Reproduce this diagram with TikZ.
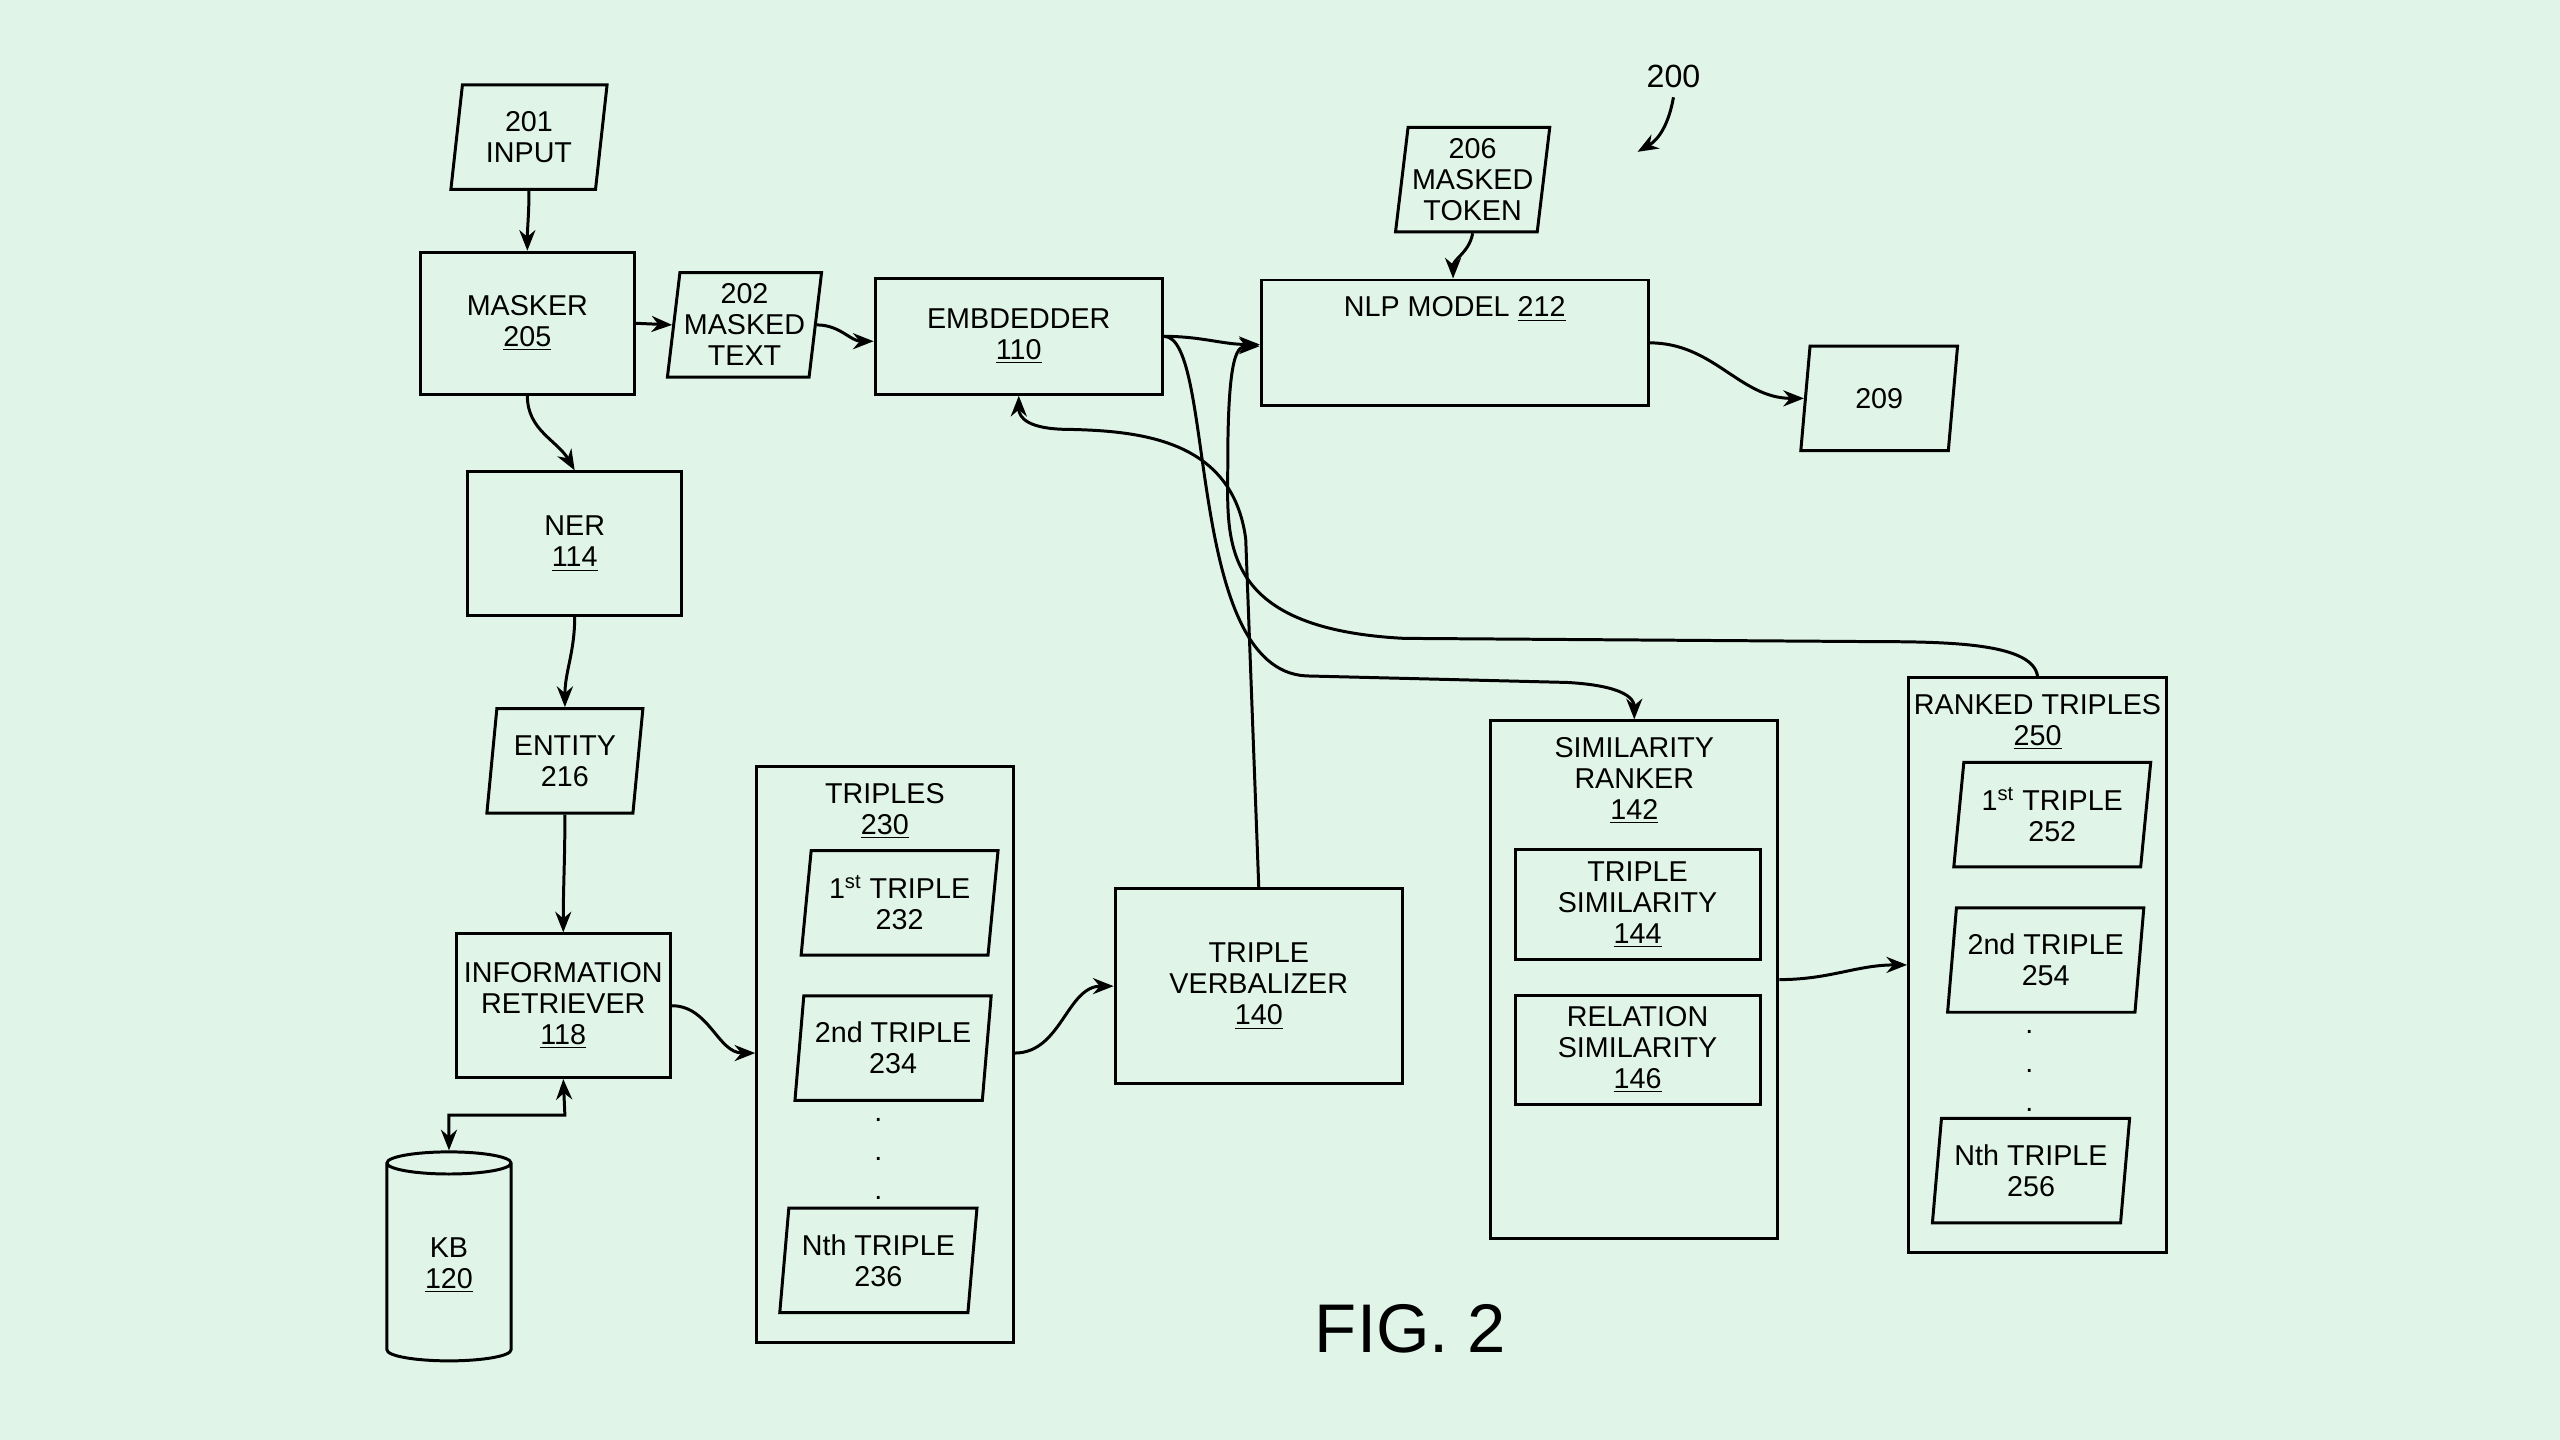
\documentclass[tikz,border=0pt]{standalone}
\usepackage{fontspec}
\setmainfont{Liberation Sans}
\usetikzlibrary{
  shapes,
  shapes.geometric,
  arrows.meta,
  calc,
  positioning,
}
\definecolor{bgG}{HTML}{E0F5E7}
\newcommand{\px}{0.025cm}

\begin{document}
\begin{tikzpicture}[x=0.025cm,y=-0.025cm,line width=1.3pt,
    font=\fontsize{12.5}{13.5}\selectfont,
    box/.style={draw,rectangle,align=center,inner sep=2pt},
    para/.style={draw,trapezium,trapezium left angle=82,trapezium right angle=98,
        trapezium stretches=true,align=center,inner sep=1pt},
    titled/.style={box,label={[anchor=north,align=center,yshift=-4pt]north:#1}},
    arr/.style={-{Stealth[length=9pt,width=7pt]}},
  ]
  \useasboundingbox[fill=bgG] (0,0) rectangle (1568,882);

  % top row
  \node[para,minimum width=96*\px,minimum height=64*\px] (in) at (324,84) {201\\INPUT};
  \node[box,minimum width=131*\px,minimum height=87*\px] (mask) at (323,198) {MASKER\\\underline{205}};
  \node[para,minimum width=95*\px,minimum height=64*\px] (mtext) at (456,199) {202\\MASKED\\TEXT};
  \node[box,minimum width=176*\px,minimum height=71*\px] (emb) at (624,206) {EMBDEDDER\\\underline{110}};
  \node[para,minimum width=95*\px,minimum height=64*\px] (mtok) at (902,110) {206\\MASKED\\TOKEN};
  \node[titled={NLP MODEL \underline{212}},minimum width=237*\px,minimum height=77*\px] (nlp) at (891,210) {};
  \node[para,minimum width=96*\px,minimum height=64*\px] (out) at (1151,244) {209};
  \node (fnum) at (1025,47) {\fontsize{14}{16}\selectfont 200};
  \coordinate (fend) at (1003,93);

  % left column
  \node[box,minimum width=131*\px,minimum height=88*\px] (ner) at (352,333) {NER\\\underline{114}};
  \node[para,minimum width=96*\px,minimum height=64*\px] (ent) at (346,466) {ENTITY\\216};
  \node[box,minimum width=131*\px,minimum height=88*\px] (ir) at (345,616) {INFORMATION\\RETRIEVER\\\underline{118}};
  \node[draw,cylinder,shape border rotate=90,aspect=0.35,minimum width=76*\px,minimum height=128*\px,align=center] (kb) at (275,775) {KB\\\underline{120}};

  % triples
  \node[titled={TRIPLES\\\underline{230}},minimum width=157*\px,minimum height=353*\px] (trp) at (542,646) {};
  \node[para,minimum width=121*\px,minimum height=64*\px] (t1) at (551,553) {1\textsuperscript{st} TRIPLE\\232};
  \node[para,minimum width=121*\px,minimum height=64*\px] (t2) at (547,642) {2nd TRIPLE\\234};
  \node[para,minimum width=121*\px,minimum height=64*\px] (tn) at (538,772) {Nth TRIPLE\\236};
  \foreach \y in {686,710,734}{
      \node[inner sep=0pt] at (538,\y) {.};
    }
  \node[box,minimum width=176*\px,minimum height=119*\px] (verb) at (771,604) {TRIPLE\\VERBALIZER\\\underline{140}};

  % similarity ranker
  \node[titled={SIMILARITY\\RANKER\\\underline{142}},minimum width=176*\px,minimum height=317*\px] (sim) at (1001,600) {};
  \node[box,minimum width=150*\px,minimum height=67*\px] (tsim) at (1003,554) {TRIPLE\\SIMILARITY\\\underline{144}};
  \node[box,minimum width=150*\px,minimum height=67*\px] (rsim) at (1003,643) {RELATION\\SIMILARITY\\\underline{146}};

  % ranked triples
  \node[titled={RANKED TRIPLES\\\underline{250}},minimum width=158*\px,minimum height=352*\px] (rank) at (1248,591) {};
  \node[para,minimum width=121*\px,minimum height=64*\px] (r1) at (1257,499) {1\textsuperscript{st} TRIPLE\\252};
  \node[para,minimum width=121*\px,minimum height=64*\px] (r2) at (1253,588) {2nd TRIPLE\\254};
  \node[para,minimum width=121*\px,minimum height=64*\px] (rn) at (1244,717) {Nth TRIPLE\\256};
  \foreach \y in {632,656,680}{
      \node[inner sep=0pt] at (1243,\y) {.};
    }

  \node (fig) at (864,814) {\fontsize{30}{34}\selectfont FIG. 2};

  % connectors
  \draw[arr] (fnum.south) to[out=-100,in=30] (fend);
  \draw[arr] (in.south) to[out=-90,in=90] (mask.north);
  \draw[arr] (mask.east) -- (mtext.west);
  \draw[arr] (mtext.east) to[out=0,in=180] (emb.west |- 0,209);
  \draw[arr] (mtok.south) to[out=-100,in=90] (nlp.north -| 890,0);
  \draw[arr] (mask.south) to[out=-90,in=120] (ner.north);
  \draw[arr] (ner.south) to[out=-90,in=90] (ent.north);
  \draw[arr] (ent.south) to[out=-90,in=90] (ir.north);
  \draw[{Stealth[length=9pt,width=7pt]}-{Stealth[length=9pt,width=7pt]}] (kb.north) |- (346,683) -- (ir.south);
  \draw[arr] (ir.east) to[out=0,in=180] (trp.west |- 0,645);
  \draw[arr] (trp.east |- 0,645) to[out=0,in=180] (verb.west);
  \draw[arr] (sim.east) to[out=0,in=180] (rank.west);
  \draw[arr] (nlp.east) to[out=0,in=180] (out.west);
  \draw[arr] (emb.east |- 0,206) to[out=0,in=180] (nlp.west |- 0,211);
  \draw[arr] (emb.east |- 0,206) .. controls (745,206) and (725,410) .. (800,414)
    -- (960,418) .. controls (995,420) and (1001,428) .. (sim.north);
  \draw[arr] (rank.north) .. controls (1245,395) and (1200,393) .. (1150,393)
    -- (860,391) .. controls (745,385) and (752,330) .. (752,285)
    .. controls (752,215) and (758,212) .. (nlp.west |- 0,212);
  \draw[arr] (verb.north) -- (763,330) .. controls (755,270) and (700,264) .. (655,263)
    .. controls (630,263) and (624,256) .. (emb.south);
\end{tikzpicture}
\end{document}
